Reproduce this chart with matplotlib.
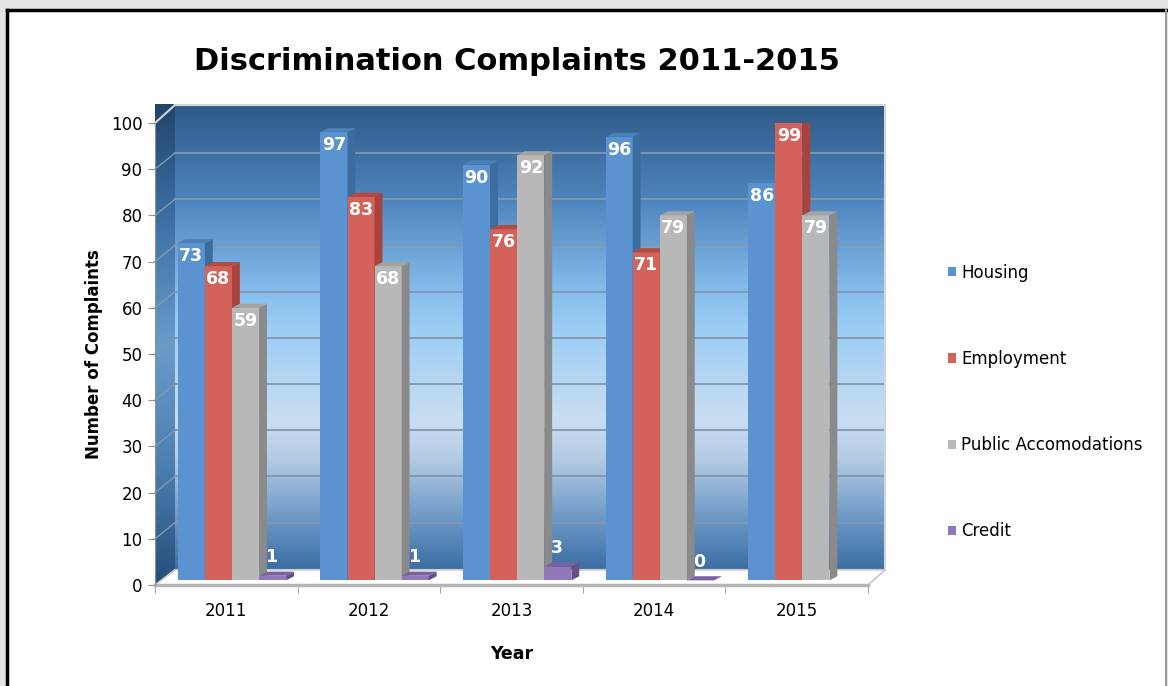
import numpy as np
import matplotlib
matplotlib.use('Agg')
import matplotlib.pyplot as plt
from matplotlib.colors import LinearSegmentedColormap
from matplotlib.patches import Rectangle, Polygon, Patch
from matplotlib.lines import Line2D

plt.rcParams['font.family'] = ['DejaVu Sans']

# data (2015 has no Credit value in the chart)
years = ['2011', '2012', '2013', '2014', '2015']
housing = [73, 97, 90, 96, 86]
employment = [68, 83, 76, 71, 99]
public_acc = [59, 68, 92, 79, 79]
credit = [1, 1, 3, 0, None]

series = [('Housing', housing), ('Employment', employment),
          ('Public Accomodations', public_acc), ('Credit', credit)]
front = ['#5a93cf', '#d3625a', '#b8b8b8', '#8e78b8']
side = ['#3d6c9e', '#a9433c', '#8a8a8a', '#644f8a']
top = ['#4a7fb8', '#b54a43', '#a3a3a3', '#7a62a0']

fig = plt.figure(figsize=(11.68, 6.86), dpi=100)
fig.patch.set_facecolor('#e4e4e4')

# white panel with frame
fig.add_artist(Rectangle((7/1168, 0), 1159/1168, 1 - 10/686, transform=fig.transFigure,
                         facecolor='white', edgecolor='none', zorder=-5))
fig.add_artist(Line2D([7/1168, 7/1168], [0, 1 - 10/686], color='black', lw=2.5, transform=fig.transFigure))
fig.add_artist(Line2D([7/1168, 1166/1168], [1 - 10/686, 1 - 10/686], color='black', lw=2.5, transform=fig.transFigure))
fig.add_artist(Line2D([1166/1168, 1166/1168], [0, 1 - 10/686], color='#999999', lw=1.5, transform=fig.transFigure))

ax = fig.add_axes([155/1168, 1 - 585/686, 713/1168, 462/686])
ax.set_xlim(-0.5, 4.5)
ax.set_ylim(0, 100)
ax.patch.set_alpha(0)

# 3d box geometry (data units)
wx0, wx1 = -0.36, 4.62
wy0, wy1 = 3.3, 103.9
lift = 3.5

# back wall gradient
wall_cmap = LinearSegmentedColormap.from_list('wall', [
    (0.0, '#3b6ea4'), (0.108, '#6c98c6'), (0.237, '#b3cbe3'), (0.323, '#c9def2'),
    (0.516, '#9ccdf5'), (0.58, '#8cc2f0'), (0.796, '#4e85bd'), (1.0, '#2f5a87')])
grad = np.linspace(0, 1, 256).reshape(-1, 1)
ax.imshow(grad, cmap=wall_cmap, origin='lower', aspect='auto',
          extent=(wx0, wx1, wy0, wy1), zorder=0, clip_on=False)

# left side wall
side_cmap = LinearSegmentedColormap.from_list('side', ['#264d78', '#4d7fb3', '#6a9bcb', '#3f71a6', '#22446c'])
sw = Polygon([(-0.5, 0), (-0.5, 100), (wx0, wy1), (wx0, wy0)], closed=True,
             facecolor='none', edgecolor='none', transform=ax.transData)
ax.add_patch(sw)
im = ax.imshow(grad, cmap=side_cmap, origin='lower', aspect='auto',
               extent=(-0.5, wx0, 0, wy1), zorder=0, clip_on=False)
im.set_clip_path(sw)

# gridlines on back wall and side wall
for v in range(10, 100, 10):
    ax.plot([wx0, wx1], [v + lift, v + lift], color='#8197b0', lw=1.3, zorder=1, clip_on=False)
    ax.plot([-0.5, wx0], [v, v + lift], color='#8197b0', lw=1.0, zorder=1, clip_on=False)
ax.plot([wx0, wx1, wx1], [wy1, wy1, wy0], color='#d5d5d5', lw=1.5, zorder=1, clip_on=False)
ax.plot([-0.5, wx0], [100, wy1], color='#d5d5d5', lw=1.5, zorder=1, clip_on=False)

# floor
floor = Polygon([(-0.5, 0), (4.5, 0), (wx1, wy0), (wx0, wy0)], closed=True,
                facecolor='white', edgecolor='#c8c8c8', lw=1.2, zorder=1, clip_on=False)
ax.add_patch(floor)
ax.plot([-0.5, 4.5], [0, 0], color='#b5b5b5', lw=2.5, zorder=2, clip_on=False)

# bars
x = np.arange(len(years))
bw = 0.19
dx, dy = 0.055, 0.9
base = 1.0
for j, (name, vals) in enumerate(series):
    xs = x - 0.5 + 0.16 + j * bw + bw / 2
    z = 3 + j
    for xc, v in zip(xs, vals):
        if v is None:
            continue
        ax.bar(xc, v, bw, bottom=base, color=front[j], edgecolor='none', zorder=z)
        x0, x1 = xc - bw / 2, xc + bw / 2
        t = base + v
        ax.add_patch(Polygon([(x1, base), (x1, t), (x1 + dx, t + dy), (x1 + dx, base + dy)],
                             closed=True, facecolor=side[j], edgecolor='none', zorder=z))
        ax.add_patch(Polygon([(x0, t), (x1, t), (x1 + dx, t + dy), (x0 + dx, t + dy)],
                             closed=True, facecolor=top[j], edgecolor='none', zorder=z))
        if j < 3:
            ax.text(xc, v - 1.8, str(v), color='white', fontsize=12.5, fontweight='bold',
                    ha='center', va='center', zorder=10)
        else:
            ax.text(xc - 0.01, v + 5, str(v), color='white', fontsize=12.5, fontweight='bold',
                    ha='center', va='center', zorder=10)

# axes styling
for s in ['top', 'right', 'bottom']:
    ax.spines[s].set_visible(False)
ax.spines['left'].set_color('#909090')
ax.set_yticks(range(0, 101, 10))
ax.tick_params(axis='y', labelsize=12, length=5, color='#909090', pad=4)
ax.set_xticks(x)
ax.set_xticklabels(years, fontsize=12)
ax.set_xticks(np.arange(-0.5, 5, 1), minor=True)
ax.tick_params(axis='x', which='major', length=0, pad=12)
ax.tick_params(axis='x', which='minor', length=6, color='#909090')

ax.set_ylabel('Number of Complaints', fontsize=12, fontweight='bold', labelpad=6)
ax.set_xlabel('Year', fontsize=12.5, fontweight='bold', labelpad=18)

fig.text(517/1168, 1 - 62/686, 'Discrimination Complaints 2011-2015', fontsize=22,
         fontweight='bold', ha='center', va='center')

handles = [Patch(facecolor=front[j], edgecolor='none') for j in range(4)]
fig.legend(handles, [s[0] for s in series], loc='center left',
           bbox_to_anchor=(948/1168, 1 - 402/686), frameon=False, fontsize=12,
           handlelength=0.5, handleheight=0.5, handletextpad=0.3, labelspacing=4.1,
           borderpad=0, borderaxespad=0)

fig.savefig('out.png', dpi=100, facecolor=fig.get_facecolor())
